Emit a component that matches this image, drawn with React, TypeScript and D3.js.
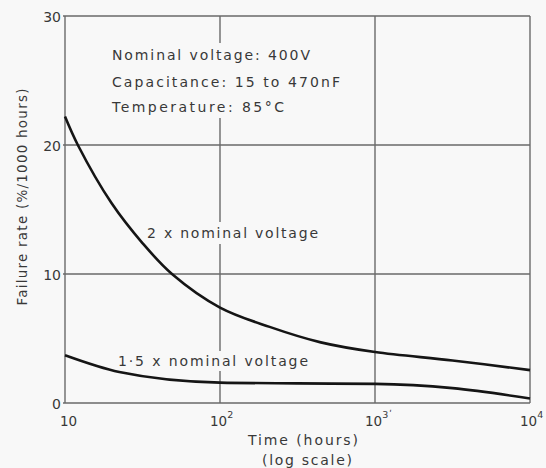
import React from "react";
import * as d3 from "d3";

const W = 546;
const H = 468;

// Data
const timesTwoX = [10, 12.1, 19.95, 31.6, 49, 100, 209, 447, 1000, 3162, 10000];
const rateTwoX = [22.2, 20, 15.5, 12.4, 10, 7.4, 5.9, 4.7, 3.95, 3.3, 2.55];
const timesOneHalfX = [10, 22.4, 100, 316, 1000, 3162, 10000];
const rateOneHalfX = [3.7, 2.4, 1.58, 1.52, 1.48, 1.15, 0.35];

const xTicks = [10, 100, 1000, 10000];
const xTickExp = ["", "2", "3", "4"];
const yTicks = [0, 10, 20, 30];

const notes = ["Nominal voltage: 400V", "Capacitance: 15 to 470nF", "Temperature: 85°C"];
const seriesLabels = ["2 x nominal voltage", "1·5 x nominal voltage"];

export default function App() {
  const x = d3.scaleLog().domain([10, 10000]).range([65, 530]);
  const y = d3.scaleLinear().domain([0, 30]).range([403, 16]);
  const line = d3
    .line<[number, number]>()
    .x((d) => x(d[0]))
    .y((d) => y(d[1]))
    .curve(d3.curveCatmullRom.alpha(0.5));
  const lineFlat = d3
    .line<[number, number]>()
    .x((d) => x(d[0]))
    .y((d) => y(d[1]))
    .curve(d3.curveMonotoneX);
  const two = timesTwoX.map((t, i) => [t, rateTwoX[i]] as [number, number]);
  const half = timesOneHalfX.map((t, i) => [t, rateOneHalfX[i]] as [number, number]);
  const bg = "#f8f8f8";
  const grid = "#6a6a6a";
  const ink = "#383838";
  const font = "'DejaVu Sans', sans-serif";

  const noteWidths = [198, 228, 172];
  const noteY = [55, 82, 107];

  return (
    <svg
      width={W}
      height={H}
      style={{ position: "absolute", left: 0, top: 0, background: bg }}
      fontFamily={font}
    >
      <rect x={0} y={0} width={W} height={H} fill={bg} />
      {/* grid */}
      {yTicks.map((v) => (
        <line key={"h" + v} x1={x(10) - 2} x2={x(10000)} y1={y(v)} y2={y(v)} stroke={grid} strokeWidth={1.4} />
      ))}
      {xTicks.map((t) => (
        <line key={"v" + t} x1={x(t)} x2={x(t)} y1={y(30)} y2={y(0)} stroke={grid} strokeWidth={1.4} />
      ))}
      {/* gaps behind text */}
      <rect x={108} y={43} width={236} height={75} fill={bg} />
      <rect x={144} y={222} width={178} height={22} fill={bg} />
      <rect x={115} y={351} width={196} height={20} fill={bg} />

      {/* curves */}
      <path d={line(two) ?? ""} fill="none" stroke="#151515" strokeWidth={2.6} />
      <path d={lineFlat(half) ?? ""} fill="none" stroke="#151515" strokeWidth={2.6} />

      {/* notes */}
      {notes.map((n, i) => (
        <text
          key={n}
          x={112}
          y={noteY[i]}
          dominantBaseline="central"
          fontSize={14}
          fill={ink}
          textLength={noteWidths[i]}
          lengthAdjust="spacing"
        >
          {n}
        </text>
      ))}
      <text x={147} y={233} dominantBaseline="central" fontSize={14} fill={ink} textLength={171} lengthAdjust="spacing">
        {seriesLabels[0]}
      </text>
      <text x={118} y={361} dominantBaseline="central" fontSize={14} fill={ink} textLength={190} lengthAdjust="spacing">
        {seriesLabels[1]}
      </text>

      {/* y tick labels */}
      {yTicks.map((v) => (
        <text key={"yl" + v} x={61} y={y(v) + 1} textAnchor="end" dominantBaseline="central" fontSize={14} fill={ink}>
          {v}
        </text>
      ))}
      {/* x tick labels */}
      {xTicks.map((t, i) => (
        <text key={"xl" + t} x={x(t) - (i === 0 ? 5 : 10)} y={421} dominantBaseline="central" fontSize={13.5} fill={ink}>
          10
          {xTickExp[i] && (
            <tspan dy={-7} fontSize={9.5}>
              {xTickExp[i]}
            </tspan>
          )}
          {i === 2 && (
            <tspan fontSize={9} dx={1}>
              ʹ
            </tspan>
          )}
        </text>
      ))}
      {/* axis titles */}
      <text x={303} y={440} textAnchor="middle" dominantBaseline="central" fontSize={14} fill={ink} textLength={110} lengthAdjust="spacing">
        Time (hours)
      </text>
      <text x={307} y={460} textAnchor="middle" dominantBaseline="central" fontSize={14} fill={ink} textLength={90} lengthAdjust="spacing">
        (log scale)
      </text>
      <text
        transform="translate(22,197) rotate(-90)"
        textAnchor="middle"
        dominantBaseline="central"
        fontSize={13.5}
        fill={ink}
        textLength={217}
        lengthAdjust="spacing"
      >
        Failure rate (%/1000 hours)
      </text>
    </svg>
  );
}
